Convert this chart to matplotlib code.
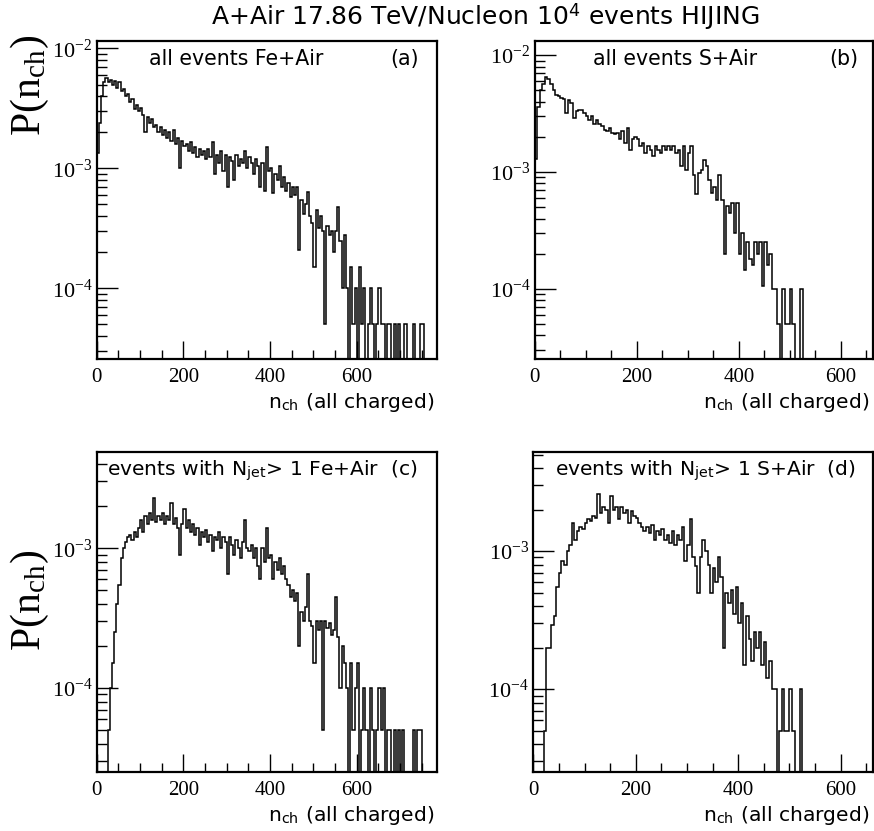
import numpy as np
import matplotlib
matplotlib.use('Agg')
import matplotlib.pyplot as plt
from matplotlib.ticker import LogLocator, MultipleLocator, LogFormatterMathtext, NullFormatter

plt.rcParams['mathtext.fontset'] = 'stix'
plt.rcParams['font.family'] = ['DejaVu Sans']

# ---- data: P(n_ch) per bin, in units of 1e-4, bins of width 5 starting at n_ch = 0
BIN_WIDTH = 5
UNIT = 1e-4

fe_all = [
    13.5, 24, 40, 53, 57, 53, 55, 50, 54, 47,
    52, 44, 46, 40, 42, 36, 38, 31, 34, 30,
    32, 28, 20, 27, 24, 26, 22, 23, 20, 22,
    19, 21, 18, 20, 17, 21, 16, 18, 10, 17,
    15.5, 16, 14, 16.5, 13.5, 15, 12.5, 14.5, 13, 14,
    12, 14.5, 12.5, 16.5, 9, 13, 11, 14, 9.5, 13,
    7, 12.5, 11.5, 8, 13, 10.5, 12, 11, 14, 10,
    12.5, 11, 9, 12, 10.5, 7, 11, 6.5, 15, 9.5,
    10, 6.2, 9, 8, 10.5, 7, 8.5, 6.5, 7.5, 5.8,
    7, 6, 7, 2.1, 5.5, 4.2, 5, 6.4, 4, 3.5,
    1.5, 4.5, 3.2, 4, 3, 0.5, 3.3, 2.8, 3, 2,
    3, 4.8, 2.5, 1, 2.8, 1, 0, 1.5, 0.5, 1,
    0, 1.5, 0.5, 1, 0, 0.5, 1, 0.5, 0, 0.5,
    1, 0.5, 0.5, 0, 0.5, 0.5, 0, 0.5, 0, 0.5,
    0, 0, 0.5, 0, 0, 0, 0.5, 0, 0, 0.5,
    0.5, 0,
]

s_all = [
    13, 36, 50, 57, 65, 62, 57, 50, 46, 45,
    43, 42, 32, 41, 39, 29, 33, 34, 34, 32,
    30, 28, 30, 26, 28, 26, 25, 23, 22.5, 24,
    21.5, 21, 21.5, 19, 22.5, 17.7, 24, 15.5, 19, 20,
    19, 16.6, 17.7, 14.6, 16.6, 15.5, 13.6, 16.6, 15.5, 14.5,
    16.6, 15.5, 16.6, 15.5, 16.6, 14.5, 15.5, 11.2, 16.6, 10.5,
    14.5, 16.6, 9.5, 6.5, 9.8, 10.5, 12.7, 11.2, 8.6, 6.6,
    7.5, 5.8, 9.5, 5.8, 2, 5.1, 4.5, 5.4, 3, 5.4,
    2, 3, 1.46, 2.5, 1.8, 1.6, 2.5, 2, 2.5, 1.05,
    2.5, 1.6, 2, 1, 1, 0.5, 0, 1, 0.5, 0.5,
    1, 0.5, 0, 0, 1, 0, 0, 0, 0, 0,
]

fe_jet = [
    0, 0, 0, 0, 0, 0.5, 1, 1.5, 2.5, 4,
    5.5, 8.5, 10, 11, 12, 12.5, 11.5, 13, 12, 14,
    16, 13, 17, 15, 18, 16, 23, 15.5, 17, 16,
    18, 15, 17, 16, 21, 15, 16.5, 14, 9, 15,
    19, 14, 16, 13, 15, 12.5, 14, 10.5, 13, 12,
    13.5, 11, 12.5, 9.5, 12, 11.5, 13, 10, 12, 11,
    6.5, 12, 10.5, 9, 11.5, 10, 8.5, 11, 16, 10,
    9.5, 10.5, 8.5, 10, 7.5, 6, 10, 8, 14, 8.5,
    9, 6, 8, 7, 8.5, 6.5, 7.5, 6, 5.5, 4.5,
    5, 4.2, 4.8, 2, 3.5, 3, 3.8, 6.5, 3, 2.8,
    1.5, 3, 2.6, 3, 0.5, 3, 2.7, 2.9, 2.4, 2.6,
    4.5, 2.3, 1, 2, 1.5, 1, 0, 1.5, 0.5, 1,
    1.5, 0, 0.5, 1, 0.5, 0, 1, 0.5, 0, 0.5,
    1, 0.5, 1, 0, 0.5, 0.5, 0, 0.5, 0, 0.5,
    0, 0.5, 0, 0, 0, 0, 0.5, 0, 0.5, 0.5,
    0,
]

s_jet = [
    0, 0, 0, 0, 0.5, 2, 2, 2.9, 3.4, 5.5,
    7, 8.5, 8, 10, 11, 16, 12, 14, 15, 14.5,
    16, 17, 16.5, 18, 17.5, 26, 19, 21, 20, 16,
    25, 20, 21, 17, 21, 19, 20, 16, 19.5, 18,
    17.5, 16, 15, 14, 15, 13.5, 15.5, 12, 14, 13,
    14.5, 12, 13, 11.5, 14, 11, 13, 12, 15, 8.5,
    11, 17, 9, 7.8, 5, 9, 12, 10, 8, 5,
    7.5, 6, 9, 6.5, 2, 5, 4.2, 5.2, 3.5, 5.5,
    3, 4.2, 1.5, 3.4, 2.3, 1.6, 2.6, 2, 2.6, 1.5,
    2.2, 1.2, 1.6, 1, 1, 0, 0.5, 1, 0.5, 0.5,
    1, 0.5, 0, 0, 1, 0,
]

labels = ["all events Fe+Air", "all events S+Air",
          r"events with N$_{\mathregular{jet}}$> 1 Fe+Air  (c)",
          r"events with N$_{\mathregular{jet}}$> 1 S+Air  (d)"]
tags = ["(a)", "(b)", None, None]
title = r"A+Air 17.86 TeV/Nucleon 10$^{\mathregular{4}}$ events HIJING"
xlabel = r"n$_{\mathregular{ch}}$ (all charged)"
ylabel = r"P(n$_{\mathregular{ch}}$)"

W, H = 874, 831
fig = plt.figure(figsize=(W / 100, H / 100), dpi=100)

# panel boxes in pixels: left, right, top, bottom
boxes = [(96.7, 437.3, 40.7, 359.3), (534.7, 872.5, 40.7, 359.3),
         (96.7, 437.3, 452.3, 772.3), (533.3, 872.5, 452.3, 772.3)]
xlims = [786, 662, 786, 662]
ylims = [(2.56e-5, 1.16e-2), (2.5e-5, 1.33e-2), (2.5e-5, 4.85e-3), (2.5e-5, 5.2e-3)]
data = [fe_all, s_all, fe_jet, s_jet]

for i, (vals, box) in enumerate(zip(data, boxes)):
    l, r, t, b = box
    ax = fig.add_axes([l / W, 1 - b / H, (r - l) / W, (b - t) / H])
    v = np.asarray(vals, dtype=float) * UNIT
    edges = np.arange(len(v) + 1) * BIN_WIDTH
    ax.stairs(np.where(v > 0, v, 1e-12), edges, color='black', lw=1.1)
    ax.set_yscale('log')
    ax.set_xlim(0, xlims[i])
    ax.set_ylim(*ylims[i])
    for s in ['top', 'right', 'left', 'bottom']:
        ax.spines[s].set_linewidth(1.6)
    ax.xaxis.set_major_locator(MultipleLocator(200))
    ax.xaxis.set_minor_locator(MultipleLocator(50))
    ax.yaxis.set_major_locator(LogLocator(base=10, numticks=10))
    ax.yaxis.set_minor_locator(LogLocator(base=10, subs=np.arange(2, 10), numticks=20))
    ax.yaxis.set_major_formatter(LogFormatterMathtext())
    ax.yaxis.set_minor_formatter(NullFormatter())
    ax.tick_params(which='both', direction='in', top=False, right=False)
    ax.tick_params(axis='x', which='major', length=13, width=1.0, pad=6, labelsize=15,
                   labelfontfamily='Liberation Serif')
    ax.tick_params(axis='x', which='minor', length=6.5, width=1.0)
    ax.tick_params(axis='y', which='major', length=15, width=1.0, pad=3, labelsize=16,
                   labelfontfamily='Liberation Serif')
    ax.tick_params(axis='y', which='minor', length=7.5, width=1.0)
    if i < 2:
        ax.text(0.41 if i == 0 else 0.415, 0.943, labels[i], transform=ax.transAxes,
                ha='center', va='center', fontsize=14.8)
        ax.text(0.905 if i == 0 else 0.915, 0.943, tags[i], transform=ax.transAxes,
                ha='center', va='center', fontsize=14.8)
    else:
        ax.text(0.03 if i == 2 else 0.065, 0.944, labels[i], transform=ax.transAxes,
                ha='left', va='center', fontsize=14.6)
    ax.text(0.99, -0.135, xlabel, transform=ax.transAxes, ha='right', va='center',
            fontsize=14.6)

fig.text(485 / W, 1 - 17 / H, title, ha='center', va='center', fontsize=18)
fig.text(30 / W, 1 - 85 / H, ylabel, rotation=90, ha='center', va='center',
         fontsize=30, family='Liberation Serif')
fig.text(30 / W, 1 - 600 / H, ylabel, rotation=90, ha='center', va='center',
         fontsize=30, family='Liberation Serif')

fig.savefig('out.png', dpi=100)
